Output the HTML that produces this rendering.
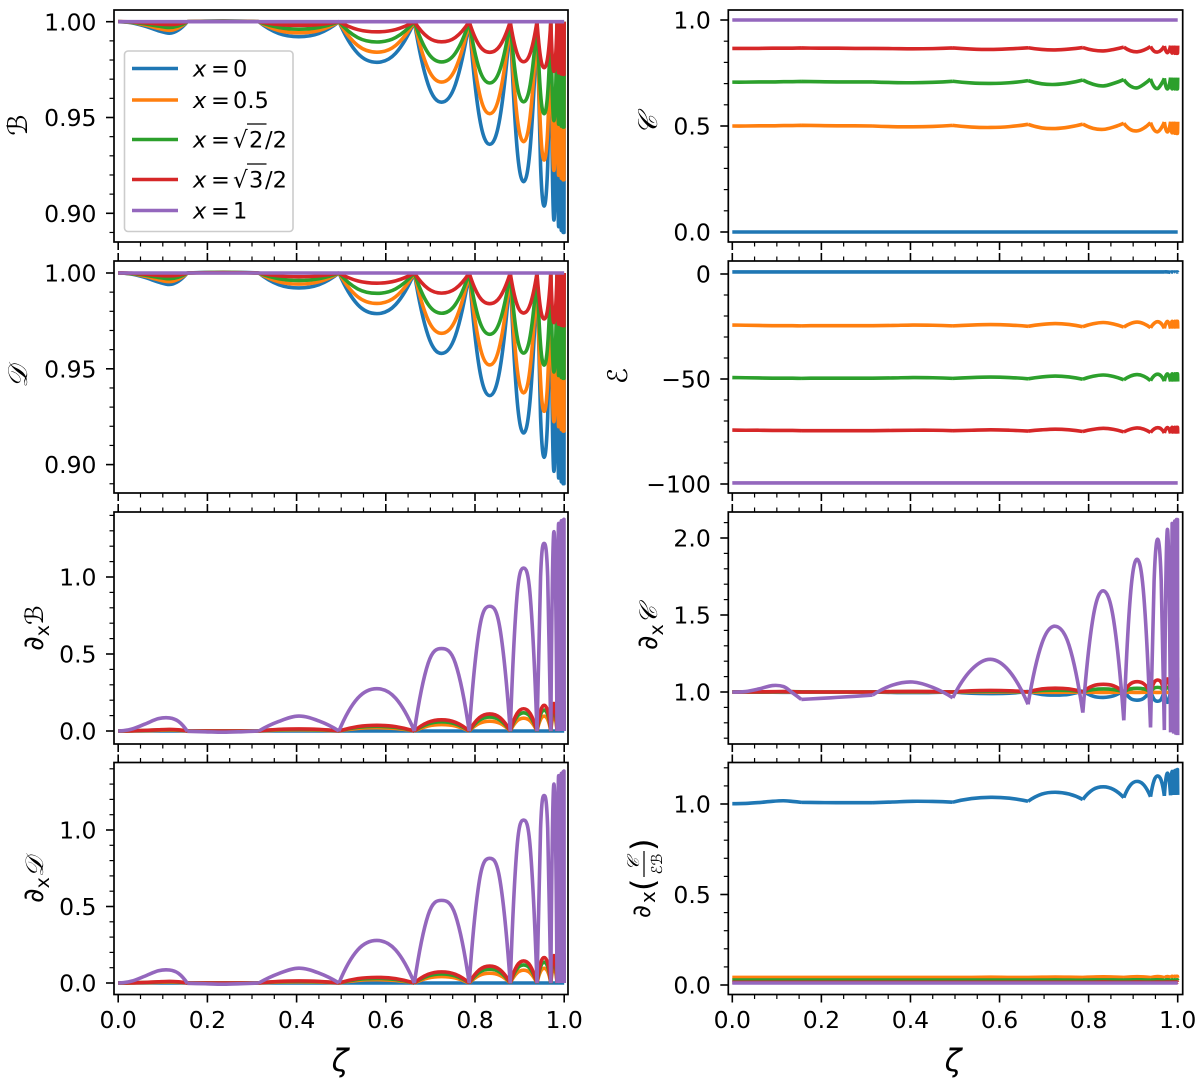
<!DOCTYPE html>
<html lang="en">
<head>
<meta charset="utf-8">
<title>Form factors versus zeta</title>
<style>
html,body{margin:0;padding:0;background:#fff;}
svg{display:block;font-family:"DejaVu Sans","Liberation Sans",sans-serif;}
</style>
</head>
<body>
<svg id="figure" xmlns="http://www.w3.org/2000/svg" width="1200" height="1086" viewBox="0 0 1200 1086">
  <rect x="0" y="0" width="1200" height="1086" fill="#ffffff"/>
  <g id="plots"></g>

  <text transform="translate(27,125) rotate(-90)" text-anchor="middle" font-size="27" font-style="italic">ℬ</text>
  <text transform="translate(27,377) rotate(-90)" text-anchor="middle" font-size="27" font-style="italic">𝒟</text>
  <text transform="translate(43,628) rotate(-90)" text-anchor="middle" font-size="28">∂<tspan font-size="19" dy="6">x</tspan><tspan dy="-6" font-size="25" font-style="italic">ℬ</tspan></text>
  <text transform="translate(43,880) rotate(-90)" text-anchor="middle" font-size="28">∂<tspan font-size="19" dy="6">x</tspan><tspan dy="-6" font-size="25" font-style="italic">𝒟</tspan></text>
  <text transform="translate(657,125) rotate(-90)" text-anchor="middle" font-size="27" font-style="italic">𝒞</text>
  <text transform="translate(627,376) rotate(-90)" text-anchor="middle" font-size="27" font-style="italic">ℰ</text>
  <text transform="translate(657,628) rotate(-90)" text-anchor="middle" font-size="28">∂<tspan font-size="19" dy="6">x</tspan><tspan dy="-6" font-size="25" font-style="italic">𝒞</tspan></text>

  <g transform="translate(650,918) rotate(-90)">
    <text x="0" y="0" font-size="25">∂</text>
    <text x="15" y="5" font-size="20">x</text>
    <text x="27" y="4" font-size="32">(</text>
    <text x="54" y="-11" font-size="17" font-style="italic" text-anchor="middle">𝒞</text>
    <line x1="41" x2="67" y1="-6" y2="-6" stroke="#000" stroke-width="1.2"/>
    <text x="54" y="12" font-size="15" font-style="italic" text-anchor="middle">ℰℬ</text>
    <text x="67" y="4" font-size="32">)</text>
  </g>

  <text x="340" y="1071" text-anchor="middle" font-size="31" font-style="italic">ζ</text>
  <text x="953" y="1071" text-anchor="middle" font-size="31" font-style="italic">ζ</text>

  <g id="legend" font-size="22.5">
    <rect x="124.5" y="51" width="168.5" height="180.5" rx="3.5" ry="3.5" fill="#ffffff" fill-opacity="0.8" stroke="#cccccc" stroke-width="1.6"/>
    <g>
      <line x1="132" x2="178" y1="68.5" y2="68.5" stroke="#1f77b4" stroke-width="3.6"/>
      <text x="193" y="76.5" font-style="italic">x</text>
      <text x="211" y="76.5">=</text>
      <text x="233" y="76.5">0</text>
    </g>
    <g>
      <line x1="132" x2="178" y1="100" y2="100" stroke="#ff7f0e" stroke-width="3.6"/>
      <text x="193" y="108" font-style="italic">x</text>
      <text x="211" y="108">=</text>
      <text x="233" y="108">0.5</text>
    </g>
    <g>
      <line x1="132" x2="178" y1="139.5" y2="139.5" stroke="#2ca02c" stroke-width="3.6"/>
      <text x="193" y="147.5" font-style="italic">x</text>
      <text x="211" y="147.5">=</text>
      <text x="233" y="147.5" font-size="23">√</text>
      <line x1="247" x2="266.5" y1="124" y2="124" stroke="#000" stroke-width="1.2"/>
      <text x="249" y="147.5">2</text>
      <text x="265" y="147.5">/2</text>
    </g>
    <g>
      <line x1="132" x2="178" y1="179.5" y2="179.5" stroke="#d62728" stroke-width="3.6"/>
      <text x="193" y="187.5" font-style="italic">x</text>
      <text x="211" y="187.5">=</text>
      <text x="233" y="187.5" font-size="23">√</text>
      <line x1="247" x2="266.5" y1="164" y2="164" stroke="#000" stroke-width="1.2"/>
      <text x="249" y="187.5">3</text>
      <text x="265" y="187.5">/2</text>
    </g>
    <g>
      <line x1="132" x2="178" y1="210.5" y2="210.5" stroke="#9467bd" stroke-width="3.6"/>
      <text x="193" y="218.5" font-style="italic">x</text>
      <text x="211" y="218.5">=</text>
      <text x="233" y="218.5">1</text>
    </g>
  </g>
</svg>

<script>
const zeta=[0,.03,.06,.09,.115,.135,.155, .195,.235,.275,.315, .36,.405,.45,.495, .537,.58,.622,.664, .695,.725,.756,.787, .81,.833,.856,.879, .894,.909,.924,.939, .947,.955,.963,.97, .977,.984, .9875,.991, .9935,.996, .9975,.999, .9995,1];
const cuspZeta=[.155,.315,.495,.664,.787,.879,.939,.97,.984,.991,.996,.999];

const xTickValues=[0,.2,.4,.6,.8,1];
const xTickLabels=['0.0','0.2','0.4','0.6','0.8','1.0'];
const xMinorValues=[.05,.1,.15,.25,.3,.35,.45,.5,.55,.65,.7,.75,.85,.9,.95];

const bTicks=[.9,.95,1];
const bTickLabels=['0.90','0.95','1.00'];
const bMinor=[.89,.91,.92,.93,.94,.96,.97,.98,.99];
const cTicks=[0,.5,1];
const cTickLabels=['0.0','0.5','1.0'];
const cMinor=[.1,.2,.3,.4,.6,.7,.8,.9];
const eTicks=[0,-50,-100];
const eTickLabels=['0','\u221250','\u2212100'];
const eMinor=[-10,-20,-30,-40,-60,-70,-80,-90];
const dbTicks=[0,.5,1];
const dbTickLabels=['0.0','0.5','1.0'];
const dbMinor=[.1,.2,.3,.4,.6,.7,.8,.9,1.1,1.2,1.3,1.4];
const dcTicks=[1,1.5,2];
const dcTickLabels=['1.0','1.5','2.0'];
const dcMinor=[.7,.8,.9,1.1,1.2,1.3,1.4,1.6,1.7,1.8,1.9,2.1];
const drTicks=[0,.5,1];
const drTickLabels=['0.0','0.5','1.0'];
const drMinor=[.1,.2,.3,.4,.6,.7,.8,.9,1.1,1.2];

const bBlue=[1,.9994,.9977,.9953,.994,.9957,1, 1.0003,1.0004,1.0003,1, .9939,.9922,.9939,1, .9835,.9788,.9835,1, .9672,.958,.9672,1, .95,.936,.95,1, .9349,.9165,.9349,1, .925,.9038,.925,1, .8965,1, .893,1, .891,1, .89,1, .89,1];
const bOrange=[1,.9996,.9983,.9965,.9955,.9968,1, 1.0002,1.0003,1.0002,1, .9954,.9942,.9954,1, .9876,.9841,.9876,1, .9754,.9685,.9754,1, .9626,.952,.9626,1, .9512,.9374,.9512,1, .9437,.9278,.9437,1, .9224,1, .9198,1, .9183,1, .9175,1, .9175,1];
const bGreen=[1,.9997,.9989,.9977,.997,.9978,1, 1.0002,1.0002,1.0002,1, .997,.9961,.997,1, .9917,.9894,.9917,1, .9836,.979,.9836,1, .975,.968,.975,1, .9674,.9582,.9674,1, .9625,.9519,.9625,1, .9483,1, .9465,1, .9455,1, .945,1, .945,1];
const bRed=[1,.9999,.9994,.9988,.9985,.9989,1, 1.0001,1.0001,1.0001,1, .9985,.9981,.9985,1, .9959,.9947,.9959,1, .9918,.9895,.9918,1, .9875,.984,.9875,1, .9837,.9791,.9837,1, .9813,.976,.9813,1, .9741,1, .9733,1, .9727,1, .9725,1, .9725,1];
const bPurple=[1,1,1,1,1,1,1, 1,1,1,1, 1,1,1,1, 1,1,1,1, 1,1,1,1, 1,1,1,1, 1,1,1,1, 1,1,1,1, 1,1, 1,1, 1,1, 1,1, 1,1];

const dBlue=[1,.9994,.9977,.9953,.994,.9957,1, 1.0003,1.0004,1.0003,1, .9939,.9922,.9939,1, .9835,.9788,.9835,1, .9672,.958,.9672,1, .95,.936,.95,1, .9349,.9165,.9349,1, .925,.9038,.925,1, .8965,1, .893,1, .891,1, .89,1, .89,1];
const dOrange=[1,.9996,.9983,.9965,.9955,.9968,1, 1.0002,1.0003,1.0002,1, .9954,.9942,.9954,1, .9876,.9841,.9876,1, .9754,.9685,.9754,1, .9626,.952,.9626,1, .9512,.9374,.9512,1, .9437,.9278,.9437,1, .9224,1, .9198,1, .9183,1, .9175,1, .9175,1];
const dGreen=[1,.9997,.9989,.9977,.997,.9978,1, 1.0002,1.0002,1.0002,1, .997,.9961,.997,1, .9917,.9894,.9917,1, .9836,.979,.9836,1, .975,.968,.975,1, .9674,.9582,.9674,1, .9625,.9519,.9625,1, .9483,1, .9465,1, .9455,1, .945,1, .945,1];
const dRed=[1,.9999,.9994,.9988,.9985,.9989,1, 1.0001,1.0001,1.0001,1, .9985,.9981,.9985,1, .9959,.9947,.9959,1, .9918,.9895,.9918,1, .9875,.984,.9875,1, .9837,.9791,.9837,1, .9813,.976,.9813,1, .9741,1, .9733,1, .9727,1, .9725,1, .9725,1];
const dPurple=[1,1,1,1,1,1,1, 1,1,1,1, 1,1,1,1, 1,1,1,1, 1,1,1,1, 1,1,1,1, 1,1,1,1, 1,1,1,1, 1,1, 1,1, 1,1, 1,1, 1,1];

const dbBlue=[0,0,0,0,0,0,0, 0,0,0,0, 0,0,0,0, 0,0,0,0, 0,0,0,0, 0,0,0,0, 0,0,0,0, 0,0,0,0, 0,0, 0,0, 0,0, 0,0, 0,0];
const dbOrange=[0,.0006,.0023,.0047,.006,.0043,0, 0,0,0,0, .0061,.0078,.0061,0, .0165,.0212,.0165,0, .0328,.042,.0328,0, .05,.064,.05,0, .0651,.0835,.0651,0, .075,.0962,.075,0, .1035,0, .107,0, .109,0, .11,0, .11,0];
const dbGreen=[0,.0009,.0032,.0066,.0085,.0061,0, 0,0,0,0, .0086,.011,.0086,0, .0234,.03,.0234,0, .0463,.0594,.0463,0, .0706,.0905,.0706,0, .092,.118,.092,0, .106,.136,.106,0, .146,0, .151,0, .154,0, .155,0, .155,0];
const dbRed=[0,.001,.004,.008,.0104,.0075,0, 0,0,0,0, .0105,.0135,.0105,0, .0286,.0367,.0286,0, .0567,.0727,.0567,0, .0866,.111,.0866,0, .1127,.1445,.1127,0, .13,.1665,.13,0, .179,0, .185,0, .1885,0, .19,0, .19,0];
const dbPurple=[0,.012,.045,.08,.085,.063,-.002, -.005,-.008,-.005,0, .062,.097,.065,0, .213,.275,.213,0, .44,.535,.44,0, .665,.81,.665,0, .87,1.058,.87,0, 1,1.218,1,0, 1.294,0, 1.348,0, 1.365,0, 1.37,0, 1.375,0];

const ddBlue=[0,0,0,0,0,0,0, 0,0,0,0, 0,0,0,0, 0,0,0,0, 0,0,0,0, 0,0,0,0, 0,0,0,0, 0,0,0,0, 0,0, 0,0, 0,0, 0,0, 0,0];
const ddOrange=[0,.0006,.0023,.0047,.006,.0043,0, 0,0,0,0, .0061,.0078,.0061,0, .0165,.0212,.0165,0, .0328,.042,.0328,0, .05,.064,.05,0, .0651,.0835,.0651,0, .075,.0962,.075,0, .1035,0, .107,0, .109,0, .11,0, .11,0];
const ddGreen=[0,.0009,.0032,.0066,.0085,.0061,0, 0,0,0,0, .0086,.011,.0086,0, .0234,.03,.0234,0, .0463,.0594,.0463,0, .0706,.0905,.0706,0, .092,.118,.092,0, .106,.136,.106,0, .146,0, .151,0, .154,0, .155,0, .155,0];
const ddRed=[0,.001,.004,.008,.0104,.0075,0, 0,0,0,0, .0105,.0135,.0105,0, .0286,.0367,.0286,0, .0567,.0727,.0567,0, .0866,.111,.0866,0, .1127,.1445,.1127,0, .13,.1665,.13,0, .179,0, .185,0, .1885,0, .19,0, .19,0];
const ddPurple=[0,.012,.045,.08,.085,.063,-.002, -.005,-.008,-.005,0, .062,.097,.065,0, .216,.278,.216,0, .445,.54,.445,0, .672,.815,.672,0, .88,1.065,.88,0, 1.01,1.225,1.01,0, 1.3,0, 1.355,0, 1.37,0, 1.38,0, 1.385,0];

const cBlue=[0,0,0,0,0,0,0, 0,0,0,0, 0,0,0,0, 0,0,0,0, 0,0,0,0, 0,0,0,0, 0,0,0,0, 0,0,0,0, 0,0, 0,0, 0,0, 0,0, 0,0];
const cOrange=[.5,.5,.501,.501,.502,.502,.503, .502,.501,.501,.5, .497,.496,.498,.503, .495,.493,.497,.508, .491,.488,.495,.509, .489,.484,.495,.513, .483,.477,.49,.516, .482,.473,.49,.519, .472,.52, .468,.52, .466,.52, .465,.52, .465,.52];
const cGreen=[.707,.707,.708,.708,.709,.709,.71, .709,.708,.708,.708, .705,.704,.706,.711, .703,.701,.704,.714, .699,.696,.703,.717, .697,.689,.701,.719, .688,.68,.697,.722, .686,.677,.697,.725, .675,.728, .675,.728, .675,.728, .675,.728, .675,.728];
const cRed=[.866,.866,.866,.867,.867,.867,.868, .867,.867,.866,.866, .865,.864,.865,.868, .863,.861,.864,.869, .861,.859,.863,.87, .858,.854,.861,.872, .855,.85,.858,.875, .853,.849,.858,.877, .846,.879, .844,.879, .843,.879, .843,.879, .843,.879];
const cPurple=[1,1,1,1,1,1,1, 1,1,1,1, 1,1,1,1, 1,1,1,1, 1,1,1,1, 1,1,1,1, 1,1,1,1, 1,1,1,1, 1,1, 1,1, 1,1, 1,1, 1,1];

const eBlue=[1,1,1,1,1,1,1, 1,1,1,1, 1,1,1,1, 1,1,1,1, 1,1,1,1, 1,1,1,1, 1,1,1,1, 1,1,1,1, 1,.8, 1,.8, 1,.8, 1,.8, 1,.8];
const eOrange=[-24.3,-24.4,-24.5,-24.6,-24.6,-24.6,-24.7, -24.6,-24.6,-24.6,-24.6, -24.5,-24.3,-24.4,-24.7, -24.3,-24.1,-24.3,-24.9, -24,-23.6,-24,-25.1, -23.7,-23.1,-23.8,-25.3, -23.6,-22.9,-23.7,-25.6, -23.5,-22.7,-23.6,-25.9, -22.6,-26, -22.5,-26, -22.5,-26, -22.5,-26, -22.5,-26];
const eGreen=[-49.3,-49.4,-49.5,-49.6,-49.6,-49.6,-49.7, -49.6,-49.6,-49.6,-49.6, -49.5,-49.3,-49.4,-49.7, -49.3,-49.1,-49.3,-49.9, -49,-48.6,-49,-50.1, -48.7,-48.1,-48.8,-50.4, -48.6,-47.9,-48.7,-50.8, -48.5,-47.7,-48.6,-51, -47.6,-51.2, -47.5,-51.2, -47.5,-51.2, -47.5,-51.2, -47.5,-51.2];
const eRed=[-74.3,-74.4,-74.4,-74.5,-74.5,-74.5,-74.6, -74.6,-74.6,-74.6,-74.6, -74.5,-74.4,-74.4,-74.6, -74.4,-74.2,-74.4,-74.8, -74.2,-73.9,-74.2,-75, -74,-73.5,-74,-75.2, -73.9,-73.3,-73.9,-75.5, -73.8,-73.2,-73.8,-75.7, -73.1,-75.9, -73,-76, -73,-76, -73,-76, -73,-76];
const ePurple=[-99.5,-99.5,-99.5,-99.5,-99.5,-99.5,-99.5, -99.5,-99.5,-99.5,-99.5, -99.5,-99.5,-99.5,-99.5, -99.5,-99.5,-99.5,-99.5, -99.5,-99.5,-99.5,-99.5, -99.5,-99.5,-99.5,-99.5, -99.5,-99.5,-99.5,-99.5, -99.5,-99.5,-99.5,-99.5, -99.5,-99.5, -99.5,-99.5, -99.5,-99.5, -99.5,-99.5, -99.5,-99.5];

const dcBlue=[1,1,.999,.999,.998,.998,1, 1,1,1,1.001, .997,.996,.997,1.001, .992,.99,.992,1.004, .984,.98,.985,1.008, .973,.965,.975,1.01, .958,.947,.96,1.01, .952,.94,.953,1.012, .933,1.012, .93,1.012, .93,1.012, .93,1.012, .93,1.012];
const dcOrange=[1,1,1,1,1,1,1, 1,1,1,1, 1,1,1,1, 1,1,1,1, .999,.998,.999,1, .998,.997,.998,1, .998,.997,.998,1, .998,.997,.998,1, .997,.998, .997,.998, .997,.998, .997,.998, .997,.998];
const dcGreen=[1,1,1,1.001,1.002,1.002,1.001, 1,1,1,1, 1.002,1.003,1.002,1, 1.004,1.005,1.004,1, 1.01,1.012,1.01,1.002, 1.016,1.02,1.016,1.002, 1.02,1.024,1.02,1.002, 1.025,1.03,1.025,1.002, 1.03,1.002, 1.03,1.002, 1.03,1.002, 1.03,1.002, 1.03,1.002];
const dcRed=[1,1,1.001,1.002,1.003,1.002,1, 1,1,1,1, 1.003,1.004,1.003,1, 1.008,1.01,1.008,1, 1.02,1.025,1.02,1, 1.04,1.05,1.04,.998, 1.053,1.067,1.053,.997, 1.062,1.078,1.062,.995, 1.085,.995, 1.09,.995, 1.092,.995, 1.092,.995, 1.092,.995];
const dcPurple=[1,1.003,1.02,1.042,1.035,.995,.952, .958,.965,.972,.98, 1.045,1.065,1.03,.962, 1.145,1.212,1.135,.92, 1.315,1.427,1.304,.866, 1.483,1.657,1.47,.816, 1.632,1.862,1.62,.77, 1.72,1.992,1.72,.753, 2.056,.738, 2.095,.73, 2.11,.723, 2.12,.72, 2.12,.72];

const drBlue=[1.002,1.003,1.008,1.015,1.018,1.014,1.009, 1.008,1.007,1.007,1.007, 1.011,1.015,1.014,1.01, 1.03,1.037,1.032,1.015, 1.055,1.065,1.055,1.025, 1.08,1.095,1.08,1.035, 1.105,1.125,1.105,1.04, 1.13,1.155,1.13,1.045, 1.17,1.048, 1.18,1.05, 1.185,1.05, 1.188,1.05, 1.19,1.05];
const drOrange=[.042,.042,.042,.042,.042,.042,.042, .042,.042,.042,.042, .042,.042,.042,.042, .042,.043,.042,.042, .043,.044,.043,.042, .044,.045,.044,.042, .045,.046,.045,.041, .045,.047,.045,.04, .047,.04, .048,.04, .048,.04, .048,.04, .048,.04];
const drGreen=[.027,.027,.027,.027,.027,.027,.027, .027,.027,.027,.027, .027,.027,.027,.027, .027,.027,.027,.027, .027,.028,.027,.027, .028,.028,.028,.027, .028,.029,.028,.027, .028,.029,.028,.026, .029,.026, .029,.026, .029,.026, .029,.026, .029,.026];
const drRed=[.015,.015,.015,.015,.015,.015,.015, .015,.015,.015,.015, .015,.015,.015,.015, .015,.015,.015,.015, .015,.015,.015,.015, .015,.016,.015,.015, .015,.016,.015,.015, .015,.016,.015,.015, .016,.015, .016,.015, .016,.015, .016,.015, .016,.015];
const drPurple=[.011,.011,.011,.011,.011,.011,.011, .011,.011,.011,.011, .011,.011,.011,.011, .011,.011,.011,.011, .011,.011,.011,.011, .011,.011,.011,.011, .011,.011,.011,.011, .011,.011,.011,.011, .011,.011, .011,.011, .011,.011, .011,.011, .011,.011];

const SVG_NS='http://www.w3.org/2000/svg';
const seriesColors=['#1f77b4','#ff7f0e','#2ca02c','#d62728','#9467bd'];
const seriesNames=['x0','x05','sqrt2','sqrt3','x1'];
const columns=[{left:114,right:568,x0:118.2,xk:446},{left:728.3,right:1182.7,x0:732.3,xk:445.4}];
const rows=[{top:10,bottom:242},{top:261,bottom:493},{top:512,bottom:744},{top:762.5,bottom:994.5}];
const panels=[
  {name:'b',col:0,row:0,ref:1,refY:21.7,k:-1916,series:[bBlue,bOrange,bGreen,bRed,bPurple],ticks:bTicks,labels:bTickLabels,minor:bMinor},
  {name:'d',col:0,row:1,ref:1,refY:273,k:-1916,series:[dBlue,dOrange,dGreen,dRed,dPurple],ticks:bTicks,labels:bTickLabels,minor:bMinor},
  {name:'dx-b',col:0,row:2,ref:0,refY:731,k:-154,series:[dbBlue,dbOrange,dbGreen,dbRed,dbPurple],ticks:dbTicks,labels:dbTickLabels,minor:dbMinor},
  {name:'dx-d',col:0,row:3,ref:0,refY:983,k:-153,series:[ddBlue,ddOrange,ddGreen,ddRed,ddPurple],ticks:dbTicks,labels:dbTickLabels,minor:dbMinor},
  {name:'c',col:1,row:0,ref:0,refY:232,k:-212,series:[cBlue,cOrange,cGreen,cRed,cPurple],ticks:cTicks,labels:cTickLabels,minor:cMinor},
  {name:'e',col:1,row:1,ref:0,refY:274,k:-2.1,series:[eBlue,eOrange,eGreen,eRed,ePurple],ticks:eTicks,labels:eTickLabels,minor:eMinor},
  {name:'dx-c',col:1,row:2,ref:1,refY:692,k:-154,series:[dcBlue,dcOrange,dcGreen,dcRed,dcPurple],ticks:dcTicks,labels:dcTickLabels,minor:dcMinor},
  {name:'dx-ratio',col:1,row:3,ref:0,refY:985,k:-181,series:[drBlue,drOrange,drGreen,drRed,drPurple],ticks:drTicks,labels:drTickLabels,minor:drMinor}
];

function make(tag,attrs){
  const el=document.createElementNS(SVG_NS,tag);
  for(const key in attrs){el.setAttribute(key,attrs[key]);}
  return el;
}

function phantom(p0,p1,p2){
  return [3*p0[0]-3*p1[0]+p2[0],3*p0[1]-3*p1[1]+p2[1]];
}

function curvePath(values,sx,sy){
  const segments=[];
  let current=[];
  zeta.forEach(function(z,i){
    const p=[sx(z),sy(values[i])];
    current.push(p);
    if(cuspZeta.indexOf(z)>=0){
      segments.push(current);
      current=[p];
    }
  });
  if(current.length>1){segments.push(current);}
  let d='';
  segments.forEach(function(seg){
    const n=seg.length;
    d+='M'+seg[0][0].toFixed(2)+' '+seg[0][1].toFixed(2);
    for(let i=0;i<n-1;i++){
      const b=seg[i],c=seg[i+1];
      const a=i>0?seg[i-1]:phantom(seg[0],seg[1],seg[2]);
      const e=i<n-2?seg[i+2]:phantom(seg[n-1],seg[n-2],seg[n-3]);
      const c1x=b[0]+(c[0]-a[0])/6,c1y=b[1]+(c[1]-a[1])/6;
      const c2x=c[0]-(e[0]-b[0])/6,c2y=c[1]-(e[1]-b[1])/6;
      d+='C'+c1x.toFixed(2)+' '+c1y.toFixed(2)+' '+c2x.toFixed(2)+' '+c2y.toFixed(2)+' '+c[0].toFixed(2)+' '+c[1].toFixed(2);
    }
  });
  return d;
}

function tickLine(parent,x1,y1,x2,y2,width,label){
  const el=make('line',{x1:x1,y1:y1,x2:x2,y2:y2,stroke:'#000',"stroke-width":width});
  
  
  parent.appendChild(el);
}

const root=document.getElementById('plots');
panels.forEach(function(p){
  const col=columns[p.col],row=rows[p.row];
  const sx=function(z){return col.x0+z*col.xk;};
  const sy=function(v){return p.refY+(v-p.ref)*p.k;};

  const g=make('g',{});
  
  
  root.appendChild(g);

  const clip=make('clipPath',{id:'clip-'+p.name});
  clip.appendChild(make('rect',{x:col.left,y:row.top,width:col.right-col.left,height:row.bottom-row.top}));
  g.appendChild(clip);

  p.series.forEach(function(values,i){
    const path=make('path',{d:curvePath(values,sx,sy),fill:'none',stroke:seriesColors[i],"stroke-width":3.6,"stroke-linejoin":'round',"clip-path":'url(#clip-'+p.name+')'});
    
    
    g.appendChild(path);
  });

  const frame=make('rect',{x:col.left,y:row.top,width:col.right-col.left,height:row.bottom-row.top,fill:'none',stroke:'#000',"stroke-width":1.7});
  
  
  g.appendChild(frame);

  xTickValues.forEach(function(z,i){
    tickLine(g,sx(z),row.bottom,sx(z),row.bottom+8,1.6,'x-major-tick');
    if(p.row>0){tickLine(g,sx(z),row.top-8,sx(z),row.top,1.6,'x-major-tick-top');}
    if(p.row===3){
      const label=make('text',{x:sx(z),y:1028,"text-anchor":'middle',"font-size":23.5});
      label.textContent=xTickLabels[i];
      
      
      g.appendChild(label);
    }
  });
  xMinorValues.forEach(function(z){
    tickLine(g,sx(z),row.bottom,sx(z),row.bottom+4.5,1.2,'x-minor-tick');
    if(p.row>0){tickLine(g,sx(z),row.top-4.5,sx(z),row.top,1.2,'x-minor-tick-top');}
  });

  p.ticks.forEach(function(v,i){
    tickLine(g,col.left-8,sy(v),col.left,sy(v),1.6,'y-major-tick');
    const label=make('text',{x:col.left-17.5,y:sy(v)+8.6,"text-anchor":'end',"font-size":23.5});
    label.textContent=p.labels[i];
    
    
    g.appendChild(label);
  });
  p.minor.forEach(function(v){
    tickLine(g,col.left-4.5,sy(v),col.left,sy(v),1.2,'y-minor-tick');
  });
});
const legend=document.getElementById('legend');
legend.parentNode.appendChild(legend);
</script>
</body>
</html>
